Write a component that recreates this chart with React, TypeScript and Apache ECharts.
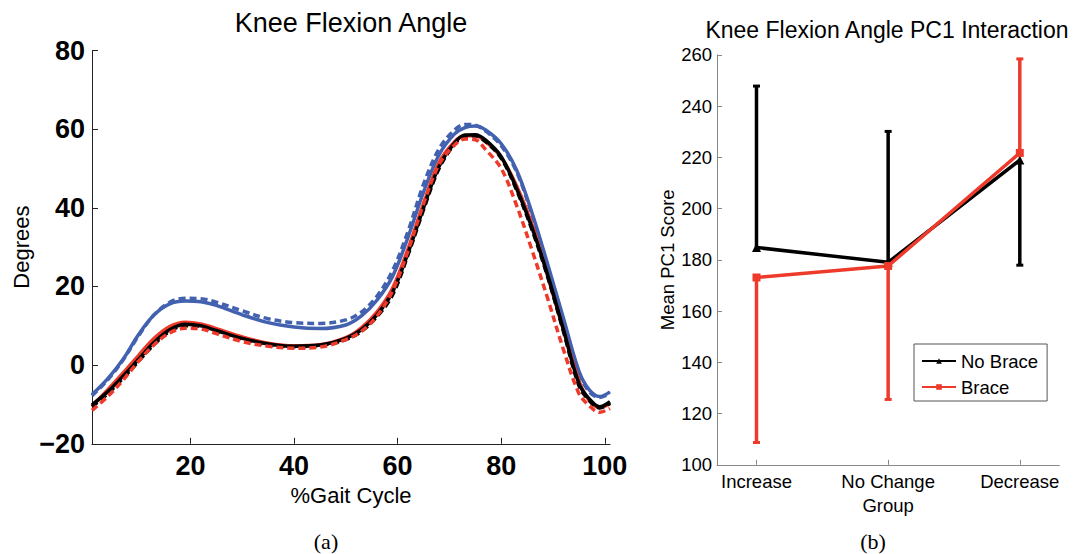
import React, { useEffect, useRef } from 'react';
import * as echarts from 'echarts';

// Knee flexion angle over the gait cycle (degrees), sampled at these % gait cycle points
const gaitPct = [1, 4, 7, 10, 13, 16, 19, 22, 25, 30, 35, 40, 45, 50, 53, 56, 59, 62, 65, 68, 71, 73, 75, 77, 80, 83, 86, 89, 92, 95, 97, 99, 101];
const blueSolid = [-7.5, -3.5, 1.5, 7.8, 12.8, 15.6, 16.3, 16.1, 15.2, 12.8, 10.8, 9.7, 9.3, 10.2, 12.5, 16.5, 22.5, 32.5, 44.0, 53.5, 58.8, 60.4, 60.8, 59.8, 56.3, 49.5, 38.5, 25.5, 12.0, -1.5, -6.3, -8.0, -6.8];
const blueDashed = [-7.8, -3.8, 1.3, 7.5, 12.8, 16.0, 17.0, 16.9, 16.0, 13.8, 11.8, 10.8, 10.6, 11.5, 13.5, 17.5, 24.0, 34.0, 46.0, 55.0, 59.8, 61.2, 61.0, 59.5, 55.8, 49.0, 38.0, 25.0, 11.5, -1.8, -6.8, -8.2, -7.2];
const redSolid = [-10.4, -6.3, -2.0, 2.5, 6.8, 9.8, 10.9, 10.5, 9.3, 7.2, 5.6, 4.9, 5.2, 7.0, 9.5, 13.5, 19.5, 29.5, 41.0, 51.5, 56.8, 58.3, 58.3, 56.8, 52.8, 45.5, 35.5, 22.5, 9.0, -4.0, -9.0, -10.8, -9.8];
const redDashed = [-11.5, -8.0, -3.8, 1.0, 5.2, 8.2, 9.4, 9.2, 8.0, 6.0, 4.8, 4.3, 4.6, 6.5, 8.6, 12.5, 18.8, 29.0, 41.0, 51.0, 56.0, 57.5, 57.3, 54.8, 50.0, 40.5, 29.0, 16.8, 4.0, -7.2, -10.3, -12.0, -11.0];
const blackSolid = [-10.1, -6.8, -2.8, 1.5, 5.8, 9.0, 10.4, 10.0, 8.8, 6.8, 5.4, 4.8, 5.1, 6.8, 9.0, 12.8, 18.5, 28.5, 40.0, 50.5, 56.5, 58.5, 58.6, 57.2, 53.0, 44.8, 34.7, 22.8, 9.1, -4.7, -8.6, -10.6, -9.3];
const blackDashed = [-10.6, -7.3, -3.3, 1.0, 5.3, 8.6, 10.0, 9.8, 8.6, 6.6, 5.2, 4.7, 5.0, 6.5, 8.6, 12.3, 17.8, 28.0, 39.5, 50.0, 56.2, 58.2, 58.3, 56.8, 52.6, 44.4, 34.2, 22.3, 8.6, -5.2, -9.0, -10.9, -9.7];
const gaitTickValues = [20, 40, 60, 80, 100];

// Mean PC1 scores per group, with the far end of each error bar
const groups = ['Increase', 'No Change', 'Decrease'];
const groupPositions = [1, 2, 3];
const noBraceMean = [184.8, 179.0, 218.9];
const noBraceBarEnd = [247.8, 230.1, 177.9];
const braceMean = [173.1, 177.6, 221.7];
const braceBarEnd = [108.7, 125.5, 258.4];

const BLUE = '#4262b0';
const RED = '#ee3a2b';
const SANS = '"Liberation Sans", Arial, Helvetica, sans-serif';
const SERIF = '"Liberation Serif", "Times New Roman", serif';

const zip = (xs: number[], ys: number[]) => xs.map((x, i) => [x, ys[i]]);

const curve = (name: string, ys: number[], color: string, dashed: boolean) => ({
  type: 'line',
  name,
  xAxisIndex: 0,
  yAxisIndex: 0,
  data: zip(gaitPct, ys),
  showSymbol: false,
  smooth: 0.35,
  silent: true,
  lineStyle: { color, width: 3.5, type: dashed ? [7, 4] : 'solid' },
});

const errorBars = (name: string, means: number[], ends: number[], color: string) => ({
  type: 'custom',
  name,
  xAxisIndex: 1,
  yAxisIndex: 1,
  silent: true,
  data: means.map((m, i) => [groupPositions[i], m, ends[i]]),
  renderItem: (_params: any, api: any) => {
    const x = api.value(0);
    const a = api.coord([x, api.value(1)]);
    const b = api.coord([x, api.value(2)]);
    return {
      type: 'group',
      children: [
        { type: 'line', shape: { x1: a[0], y1: a[1], x2: b[0], y2: b[1] }, style: { stroke: color, lineWidth: 3.5 } },
        { type: 'line', shape: { x1: b[0] - 3.5, y1: b[1], x2: b[0] + 3.5, y2: b[1] }, style: { stroke: color, lineWidth: 3 } },
      ],
    };
  },
});

export default function App() {
  const ref = useRef<HTMLDivElement>(null);

  useEffect(() => {
    if (!ref.current) return;
    const chart = echarts.init(ref.current, undefined, { renderer: 'svg' });
    chart.setOption({
      animation: false,
      backgroundColor: '#ffffff',
      textStyle: { fontFamily: SANS, color: '#000' },
      grid: [
        { left: 92, top: 50.5, width: 518, height: 393.3 },
        { left: 717, top: 54.8, width: 342.3, height: 410 },
      ],
      xAxis: [
        {
          type: 'value',
          gridIndex: 0,
          min: 1,
          max: 101,
          name: '%Gait Cycle',
          nameLocation: 'middle',
          nameGap: 35,
          nameTextStyle: { fontFamily: SANS, fontSize: 22, color: '#000' },
          axisLine: { show: true, onZero: false, lineStyle: { color: '#222', width: 1 } },
          axisTick: { show: true, inside: true, length: 6, customValues: gaitTickValues, lineStyle: { color: '#222' } },
          axisLabel: { customValues: gaitTickValues, margin: 9, fontFamily: SANS, fontSize: 27, fontWeight: 'bold', color: '#000' },
          splitLine: { show: false },
        },
        {
          type: 'value',
          gridIndex: 1,
          min: 0.7,
          max: 3.3,
          name: 'Group',
          nameLocation: 'middle',
          nameGap: 31,
          nameTextStyle: { fontFamily: SANS, fontSize: 18.5, color: '#000' },
          axisLine: { show: true, onZero: false, lineStyle: { color: '#888', width: 1 } },
          axisTick: { show: true, inside: true, length: 5, customValues: groupPositions, lineStyle: { color: '#888' } },
          axisLabel: {
            customValues: groupPositions,
            margin: 7,
            fontFamily: SANS,
            fontSize: 18.5,
            color: '#000',
            formatter: (v: number) => groups[Math.round(v) - 1] ?? '',
          },
          splitLine: { show: false },
        },
      ],
      yAxis: [
        {
          type: 'value',
          gridIndex: 0,
          min: -20,
          max: 80,
          interval: 20,
          name: 'Degrees',
          nameLocation: 'middle',
          nameGap: 60,
          nameRotate: 90,
          nameTextStyle: { fontFamily: SANS, fontSize: 22, color: '#000' },
          axisLine: { show: true, onZero: false, lineStyle: { color: '#222', width: 1 } },
          axisTick: { show: true, inside: true, length: 6, lineStyle: { color: '#222' } },
          axisLabel: {
            margin: 7,
            fontFamily: SANS,
            fontSize: 27,
            fontWeight: 'bold',
            color: '#000',
            formatter: (v: number) => String(v).replace('-', '\u2212'),
          },
          splitLine: { show: false },
        },
        {
          type: 'value',
          gridIndex: 1,
          min: 100,
          max: 260,
          interval: 20,
          name: 'Mean PC1 Score',
          nameLocation: 'middle',
          nameGap: 40,
          nameRotate: 90,
          nameTextStyle: { fontFamily: SANS, fontSize: 18.5, color: '#000' },
          axisLine: { show: true, onZero: false, lineStyle: { color: '#888', width: 1 } },
          axisTick: { show: true, inside: true, length: 5, lineStyle: { color: '#888' } },
          axisLabel: { margin: 5, fontFamily: SANS, fontSize: 18.5, color: '#000' },
          splitLine: { show: false },
        },
      ],
      legend: {
        data: ['No Brace', 'Brace'],
        orient: 'vertical',
        left: 914,
        top: 344,
        itemWidth: 34,
        itemHeight: 7,
        itemGap: 6,
        padding: [7, 9, 4, 7],
        borderColor: '#555',
        borderWidth: 1,
        backgroundColor: '#fff',
        selectedMode: false,
        textStyle: { fontFamily: SANS, fontSize: 18.5, color: '#000', lineHeight: 20 },
      },
      graphic: [
        { type: 'text', x: 351, y: 23, style: { text: 'Knee Flexion Angle', font: `27px ${SANS}`, fill: '#000', textAlign: 'center', textVerticalAlign: 'middle' } },
        { type: 'text', x: 887, y: 30, style: { text: 'Knee Flexion Angle PC1 Interaction', font: `23px ${SANS}`, fill: '#000', textAlign: 'center', textVerticalAlign: 'middle' } },
        { type: 'text', x: 326, y: 541, style: { text: '(a)', font: `22px ${SERIF}`, fill: '#000', textAlign: 'center', textVerticalAlign: 'middle' } },
        { type: 'text', x: 873, y: 541, style: { text: '(b)', font: `22px ${SERIF}`, fill: '#000', textAlign: 'center', textVerticalAlign: 'middle' } },
      ],
      series: [
        curve('Blue solid', blueSolid, BLUE, false),
        curve('Blue dashed', blueDashed, BLUE, true),
        curve('Red solid', redSolid, RED, false),
        curve('Black solid', blackSolid, '#000', false),
        curve('Black dashed', blackDashed, '#000', true),
        curve('Red dashed', redDashed, RED, true),
        errorBars('No Brace error', noBraceMean, noBraceBarEnd, '#000'),
        {
          type: 'line',
          name: 'No Brace',
          xAxisIndex: 1,
          yAxisIndex: 1,
          data: zip(groupPositions, noBraceMean),
          symbol: 'triangle',
          symbolSize: 9,
          silent: true,
          itemStyle: { color: '#000' },
          lineStyle: { color: '#000', width: 3.5 },
        },
        errorBars('Brace error', braceMean, braceBarEnd, RED),
        {
          type: 'line',
          name: 'Brace',
          xAxisIndex: 1,
          yAxisIndex: 1,
          data: zip(groupPositions, braceMean),
          symbol: 'rect',
          symbolSize: 8,
          silent: true,
          itemStyle: { color: RED },
          lineStyle: { color: RED, width: 3.5 },
        },
      ],
    });
    return () => chart.dispose();
  }, []);

  return <div ref={ref} style={{ position: 'fixed', left: 0, top: 0, width: 1074, height: 554, background: '#fff' }} />;
}
